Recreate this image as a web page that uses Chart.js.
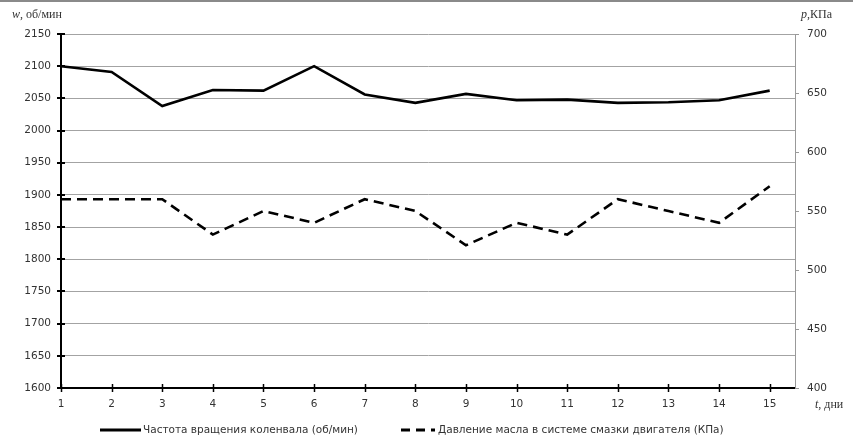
<!DOCTYPE html>
<html>
<head>
<meta charset="utf-8">
<script src="https://cdn.jsdelivr.net/npm/chart.js@4/dist/chart.umd.min.js"></script>
<style>
html,body{margin:0;padding:0;background:#fff;}
canvas{display:block;}
</style>
</head>
<body>
<canvas id="c" width="853" height="441"></canvas>
<script>
// ---- data ----
const days = [1,2,3,4,5,6,7,8,9,10,11,12,13,14,15];
const rpm = [2100,2091,2038,2063,2062,2100,2056,2043,2057,2047,2048,2043,2044,2047,2062];
const pressure = [560,560,560,530,550,540,560,550,521,540,530,560,550,540,571];
const rpmLabel = 'Частота вращения коленвала (об/мин)';
const pressureLabel = 'Давление масла в системе смазки двигателя (КПа)';
const rpmAxis = {min:1600, max:2150, step:50};
const pressureAxis = {min:400, max:700, step:50};
const dayAxis = {min:1, max:15.5, step:1};

const TXT = '#333';
const GRID = '#a3a3a3';

const decor = {
  id:'decor',
  afterDraw(chart){
    const ctx = chart.ctx, a = chart.chartArea;
    const sx = chart.scales.x, yl = chart.scales.y, yr = chart.scales.y1;
    ctx.save();
    // top frame line
    ctx.strokeStyle = '#8a8a8a'; ctx.lineWidth = 2;
    ctx.beginPath(); ctx.moveTo(0,1); ctx.lineTo(chart.width,1); ctx.stroke();
    // left ticks crossing
    ctx.strokeStyle = '#000'; ctx.lineWidth = 2;
    yl.ticks.forEach(t=>{const y=Math.round(yl.getPixelForValue(t.value));
      ctx.beginPath(); ctx.moveTo(a.left-4,y); ctx.lineTo(a.left+4,y); ctx.stroke();});
    // bottom ticks crossing
    ctx.lineWidth = 1.5;
    sx.ticks.forEach(t=>{const x=Math.round(sx.getPixelForValue(t.value))+0.5;
      ctx.beginPath(); ctx.moveTo(x,a.bottom-4); ctx.lineTo(x,a.bottom+4); ctx.stroke();});
    // right ticks
    ctx.strokeStyle = '#999'; ctx.lineWidth = 1;
    yr.ticks.forEach(t=>{const y=Math.round(yr.getPixelForValue(t.value))+0.5;
      ctx.beginPath(); ctx.moveTo(a.right,y); ctx.lineTo(a.right+4,y); ctx.stroke();});
    // axis titles
    ctx.fillStyle = TXT; ctx.textBaseline = 'middle'; ctx.textAlign='left';
    function mixed(parts, x, y){
      parts.forEach(([txt,it])=>{
        ctx.font = (it?'italic ':'') + '12px "Liberation Serif"';
        ctx.fillText(txt,x,y); x += ctx.measureText(txt).width;
      });
    }
    mixed([['w',1],[', об/мин',0]], 12, 15);
    mixed([['p',1],[',КПа',0]], a.right+6, 15);
    mixed([['t',1],[', дни',0]], a.right+20, 405);
    // legend
    const ly = 430;
    const ds = chart.data.datasets;
    ctx.strokeStyle = ds[0].borderColor; ctx.lineWidth = 3;
    ctx.setLineDash([]);
    ctx.beginPath(); ctx.moveTo(100,ly); ctx.lineTo(141,ly); ctx.stroke();
    ctx.font = '10.5px "DejaVu Sans"'; ctx.fillStyle = TXT;
    ctx.fillText(ds[0].label, 143, ly);
    ctx.strokeStyle = ds[1].borderColor; ctx.setLineDash([9,6]);
    ctx.beginPath(); ctx.moveTo(401,ly); ctx.lineTo(435,ly); ctx.stroke();
    ctx.setLineDash([]);
    ctx.fillText(ds[1].label, 438, ly);
    ctx.restore();
  }
};

const plain = v => String(v);

new Chart(document.getElementById('c'), {
  type:'line',
  data:{
    datasets:[
      {label:rpmLabel, data:days.map((d,i)=>({x:d,y:rpm[i]})), yAxisID:'y',
       borderColor:'#000', borderWidth:2.6, pointRadius:0, tension:0, fill:false},
      {label:pressureLabel, data:days.map((d,i)=>({x:d,y:pressure[i]})), yAxisID:'y1',
       borderColor:'#000', borderWidth:2.6, borderDash:[10,6], pointRadius:0, tension:0, fill:false}
    ]
  },
  options:{
    responsive:false,
    animation:false,
    layout:{padding:{top:34,left:0,right:0,bottom:0}},
    plugins:{legend:{display:false}, tooltip:{enabled:false}},
    scales:{
      x:{type:'linear', min:dayAxis.min, max:dayAxis.max,
         afterFit(s){s.height=53;},
         grid:{display:true, drawOnChartArea:false, drawTicks:false},
         border:{display:true, color:'#000', width:2},
         ticks:{stepSize:dayAxis.step, includeBounds:false, autoSkip:false, maxRotation:0,
                padding:10, color:TXT, font:{family:'DejaVu Sans', size:10.5},
                callback:plain}},
      y:{type:'linear', position:'left', min:rpmAxis.min, max:rpmAxis.max,
         afterFit(s){s.width=61;},
         grid:{color:GRID, lineWidth:1, drawTicks:false},
         border:{display:true, color:'#000', width:2},
         ticks:{stepSize:rpmAxis.step, padding:10, color:TXT, font:{family:'DejaVu Sans', size:10.5},
                callback:plain}},
      y1:{type:'linear', position:'right', min:pressureAxis.min, max:pressureAxis.max,
         afterFit(s){s.width=58;},
         grid:{drawOnChartArea:false, drawTicks:false},
         border:{display:true, color:'#999', width:1},
         ticks:{stepSize:pressureAxis.step, padding:12, color:TXT, font:{family:'DejaVu Sans', size:10.5},
                callback:plain}}
    }
  },
  plugins:[decor]
});
</script>
</body>
</html>
